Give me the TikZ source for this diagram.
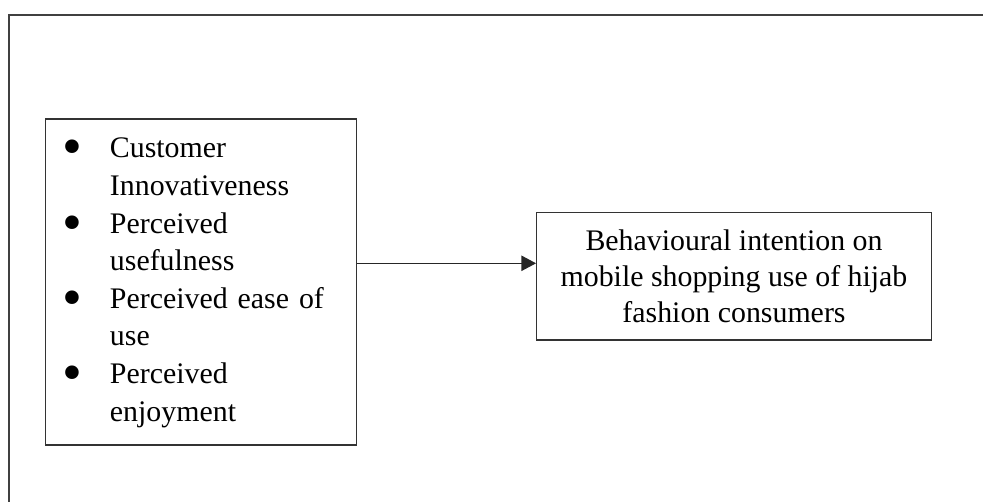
\documentclass[tikz,border=0pt]{standalone}
\usepackage{fontspec}
\setmainfont{Liberation Serif}
\usepackage{graphicx}
\usepackage{tikz}
\usetikzlibrary{arrows.meta, calc}

\newcommand{\factorbullet}{\raisebox{-6pt}{\scalebox{1.9}{•}}}

\tikzset{
	framebox/.style={draw=black!75, line width=0.9pt},
	listbox/.style={draw=black!80, line width=0.9pt, inner sep=0pt, text width=233.25pt, align=left, minimum height=244.5pt, font=\fontsize{22.4}{28.2}\selectfont},
	targetbox/.style={draw=black!80, line width=0.9pt, inner sep=0pt, minimum width=296pt, minimum height=95.8pt, align=center, font=\fontsize{22.4}{27}\selectfont},
	flow/.style={-{Triangle[length=11pt, width=11.5pt]}, line width=0.9pt, black!85}
}

\begin{document}
\begin{tikzpicture}[x=0.75pt, y=-0.75pt]
	\useasboundingbox (0,0) rectangle (983,502);
	\clip (0,0) rectangle (983,502);
	
	% Drawing the outer frame
	\draw[framebox] (9,15) rectangle (1010,530);
	
	% Drawing the boxes
	\node[listbox] (factors) at (201.2,282) {%
		\begin{tabular}{@{\hspace{12.8pt}}p{35.4pt}@{}l@{}}
			\factorbullet & Customer\\
			 & Innovativeness\\
			\factorbullet & Perceived\\
			 & usefulness\\
			\factorbullet & Perceived ease of\\
			 & use\\
			\factorbullet & Perceived\\
			 & enjoyment
		\end{tabular}};
	\node[targetbox] (intention) at (734,276.2) {Behavioural intention on\\mobile shopping use of hijab\\fashion consumers};
	
	% Drawing the arrow
	\coordinate (link) at (450,263.3);
	\draw[flow] (factors.east |- link) -- (intention.west |- link);
\end{tikzpicture}
\end{document}
